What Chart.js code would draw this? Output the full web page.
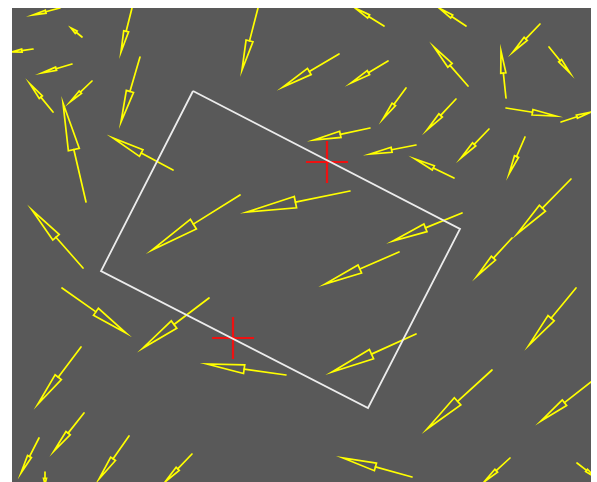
<!DOCTYPE html>
<html>
<head>
<meta charset="utf-8">
<title>Vector field</title>
<script src="https://cdn.jsdelivr.net/npm/chart.js@4/dist/chart.umd.min.js"></script>
<style>
  html, body { margin: 0; padding: 0; background: #ffffff; }
  canvas { display: block; }
</style>
</head>
<body>
<canvas id="field" width="597" height="482"></canvas>
<script>
// Field extent
const xRange = [0, 57.9];
const yRange = [0, 47.4];

// Arrow glyphs: tail position (arrowX, arrowY) and vector components (arrowU, arrowV)
const arrowX = [4.8, 7.0, 2.1, 6.0, 4.1, 8.0, 7.4, 12.0, 12.8, 16.1, 24.6, 32.7, 33.8, 22.8, 7.1,
  37.2, 45.4, 37.6, 39.4, 44.4, 45.6, 52.8, 53.7, 49.4, 49.4, 54.9, 35.8, 40.4, 44.2, 47.7, 51.3,
  55.9, 50.0, 45.0, 5.0, 19.7, 6.9, 27.4, 7.2, 2.7, 3.3, 11.7, 18.0, 38.7, 40.4, 56.4, 48.0, 57.9,
  40.0, 49.8, 56.5];
const arrowY = [47.4, 44.5, 43.3, 41.8, 37.0, 40.1, 28.0, 47.4, 42.5, 31.2, 47.4, 42.8, 29.1, 28.7, 21.4,
  45.6, 45.6, 42.1, 39.4, 38.3, 39.6, 45.8, 43.5, 38.4, 37.4, 36.0, 35.4, 33.7, 30.4, 35.3, 34.5,
  30.3, 24.4, 26.9, 19.4, 18.4, 13.5, 10.7, 6.9, 4.4, 1.0, 4.6, 2.8, 23.0, 14.8, 19.4, 11.2, 10.0,
  0.5, 2.4, 1.9];
const arrowU = [-2.7, -1.1, -2.1, -3.0, -2.3, -2.2, -2.3, -1.1, -1.9, -6.0, -1.6, -5.6, -10.3, -8.8, -5.1,
  -2.9, -2.7, -3.7, -2.3, -2.9, -3.4, -2.7, 2.1, -0.5, 5.0, 3.0, -5.6, -4.6, -3.9, -2.8, -1.6,
  -5.4, -3.5, -6.9, 6.4, -6.6, -4.3, -7.9, -3.0, -1.8, 0.0, -3.0, -2.7, -7.4, -8.4, -4.7, -6.5, -5.0,
  -6.9, -2.6, 1.8];
const arrowV = [-0.7, 0.9, -0.3, -0.9, 2.8, -2.1, 9.9, -4.4, -6.5, 3.2, -6.2, -3.3, -2.1, -5.5, 5.8,
  1.8, 1.8, -2.2, -3.1, -3.1, 3.9, -2.8, -2.6, 4.7, -0.8, 1.0, -1.2, -0.9, 1.9, -2.9, -3.7,
  -5.5, -3.8, -2.8, -4.5, -5.0, -5.7, 1.1, -3.8, -3.5, -1.2, -4.3, -2.8, -3.2, -3.8, -5.7, -5.9, -3.9,
  1.9, -2.4, -1.4];

// Region outline (closed quadrilateral)
const regionX = [18.1, 44.8, 35.6, 8.9, 18.1];
const regionY = [39.1, 25.3, 7.4, 21.1, 39.1];

// Marked points
const markX = [31.5, 22.1];
const markY = [32.0, 14.4];

const regionPoints = regionX.map((x, i) => ({ x, y: regionY[i] }));
const markPoints = markX.map((x, i) => ({ x, y: markY[i] }));

// Gray field background inside the plotting area
const fieldBackground = {
  id: 'fieldBackground',
  beforeDraw(chart) {
    const { ctx, chartArea: a } = chart;
    ctx.save();
    ctx.fillStyle = '#595959';
    ctx.fillRect(a.left, a.top, a.right - a.left, a.bottom - a.top);
    ctx.restore();
  }
};

// Quiver glyphs: shaft plus a long narrow open head ending at the tip
const quiver = {
  id: 'quiver',
  beforeDatasetsDraw(chart) {
    const { ctx, chartArea: a, scales } = chart;
    const xs = scales.x, ys = scales.y;
    ctx.save();
    ctx.beginPath();
    ctx.rect(a.left, a.top, a.right - a.left, a.bottom - a.top);
    ctx.clip();
    ctx.strokeStyle = '#ffff00';
    ctx.lineWidth = 1.7;
    ctx.lineJoin = 'miter';
    ctx.lineCap = 'round';
    for (let i = 0; i < arrowX.length; i++) {
      const x0 = xs.getPixelForValue(arrowX[i]);
      const y0 = ys.getPixelForValue(arrowY[i]);
      const x1 = xs.getPixelForValue(arrowX[i] + arrowU[i]);
      const y1 = ys.getPixelForValue(arrowY[i] + arrowV[i]);
      const dx = x1 - x0, dy = y1 - y0;
      const len = Math.hypot(dx, dy);
      if (len < 0.5) continue;
      const ux = dx / len, uy = dy / len;
      const headLen = 0.47 * len;
      const half = Math.max(1.5, 0.055 * len);
      const bx = x1 - ux * headLen, by = y1 - uy * headLen;
      ctx.beginPath();
      ctx.moveTo(x0, y0);
      ctx.lineTo(bx, by);
      ctx.stroke();
      ctx.beginPath();
      ctx.moveTo(bx - uy * half, by + ux * half);
      ctx.lineTo(x1, y1);
      ctx.lineTo(bx + uy * half, by - ux * half);
      ctx.closePath();
      ctx.stroke();
    }
    ctx.restore();
  }
};

new Chart(document.getElementById('field'), {
  type: 'scatter',
  data: {
    datasets: [
      {
        label: 'Region',
        data: regionPoints,
        showLine: true,
        borderColor: '#ececec',
        borderWidth: 1.8,
        pointRadius: 0,
        fill: false,
        tension: 0
      },
      {
        label: 'Marks',
        data: markPoints,
        pointStyle: 'cross',
        pointRadius: 21,
        pointBorderColor: '#ee1111',
        pointBorderWidth: 2.2,
        borderColor: '#ee1111',
        showLine: false
      }
    ]
  },
  options: {
    responsive: false,
    animation: false,
    layout: { autoPadding: false, padding: { left: 12, top: 8, right: 6, bottom: 0 } },
    plugins: {
      legend: { display: false },
      tooltip: { enabled: false }
    },
    scales: {
      x: { type: 'linear', min: xRange[0], max: xRange[1], display: false },
      y: { type: 'linear', min: yRange[0], max: yRange[1], display: false }
    }
  },
  plugins: [fieldBackground, quiver]
});
</script>
</body>
</html>
